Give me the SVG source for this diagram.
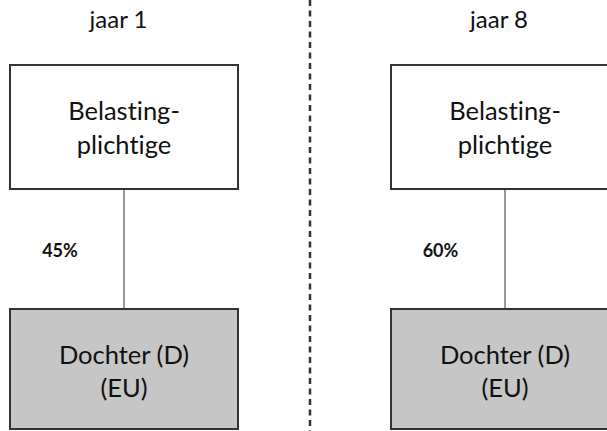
<svg xmlns="http://www.w3.org/2000/svg" width="607" height="431" viewBox="0 0 607 431">
<style>
text{font-family:Lato,"Open Sans","Liberation Sans",sans-serif;fill:#111;text-anchor:middle;font-variant-ligatures:none;font-feature-settings:"liga" 0}
.title{font-size:24px}
.lbl{font-size:25.5px}
.pct{font-size:18px;font-weight:bold}
.top{fill:#fff;stroke:#333;stroke-width:2}
.sub{fill:#c6c6c6;stroke:#333;stroke-width:2}
.conn{stroke:#777;stroke-width:1.5;fill:none}
.div{stroke:#333;stroke-width:2.5;stroke-dasharray:6 4.5;fill:none}
</style>
<rect width="607" height="431" fill="#fff"/>
<line class="div" x1="310" y1="0" x2="310" y2="431"/>
<text class="title" x="118.5" y="28">jaar 1</text>
<text class="title" x="499" y="28">jaar 8</text>
<g id="connectors">
<line class="conn" x1="124" y1="189" x2="124" y2="309"/>
<text class="pct" x="60" y="257">45%</text>
<line class="conn" x1="505" y1="189" x2="505" y2="309"/>
<text class="pct" x="440.5" y="257">60%</text>
</g>
<g id="bp1">
<rect class="top" x="10" y="65" width="228" height="124"/>
<text class="lbl" x="124" y="120">Belasting-</text>
<text class="lbl" x="124" y="153.5">plichtige</text>
</g>
<g id="d1">
<rect class="sub" x="10" y="309" width="228" height="120"/>
<text class="lbl" x="124" y="364">Dochter (D)</text>
<text class="lbl" x="124" y="397">(EU)</text>
</g>
<g id="bp8">
<rect class="top" x="391" y="65" width="228" height="124"/>
<text class="lbl" x="505" y="120">Belasting-</text>
<text class="lbl" x="505" y="153.5">plichtige</text>
</g>
<g id="d8">
<rect class="sub" x="391" y="309" width="228" height="120"/>
<text class="lbl" x="505" y="364">Dochter (D)</text>
<text class="lbl" x="505" y="397">(EU)</text>
</g>
</svg>
